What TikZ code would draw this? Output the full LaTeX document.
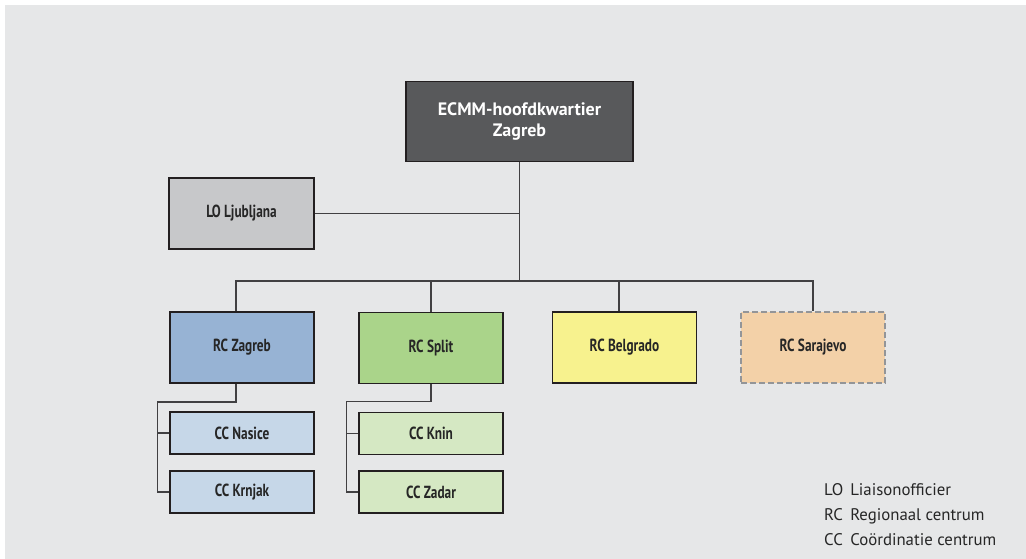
\documentclass[tikz,border=0pt]{standalone}
\usepackage{fontspec}
\setmainfont{PT Sans}
\newfontfamily\boxfont[FakeStretch=0.76]{PT Sans}
\usepackage{xcolor}
\usepackage{tikz}

\definecolor{bgGrey}{HTML}{E6E7E8}
\definecolor{lineGrey}{HTML}{414042}
\definecolor{edgeDark}{HTML}{231F20}
\definecolor{hqFill}{HTML}{58595B}
\definecolor{loFill}{HTML}{C7C8CA}
\definecolor{zagFill}{HTML}{97B3D4}
\definecolor{zagLight}{HTML}{C6D7E8}
\definecolor{splFill}{HTML}{AAD48A}
\definecolor{splLight}{HTML}{D5E8C3}
\definecolor{belFill}{HTML}{F7F28E}
\definecolor{sarFill}{HTML}{F3D1A8}
\definecolor{sarEdge}{HTML}{939598}

\tikzset{
  unit/.style={draw=edgeDark, line width=1.8pt, inner sep=0pt, align=center,
    font=\boxfont\bfseries\fontsize{17.5}{20}\selectfont, text=black!85},
  rcbox/.style={unit, minimum width=144pt, minimum height=71pt},
  ccbox/.style={unit, minimum width=144pt, minimum height=42pt},
  link/.style={draw=lineGrey, line width=1.2pt}
}

\begin{document}
\begin{tikzpicture}[x=1pt, y=-1pt]
  \useasboundingbox (0,0) rectangle (1026,559);
  \fill[bgGrey] (5,5) rectangle (1026,559);

  % Headquarters and liaison office
  \node[unit, fill=hqFill, minimum width=227pt, minimum height=80pt,
    font=\bfseries\fontsize{18}{21}\selectfont, text=white] (hq) at (519.5,121.5)
    {ECMM-hoofdkwartier\\Zagreb};
  \node[unit, fill=loFill, minimum width=145pt, minimum height=71pt] (lo) at (241.5,213.5) {LO Ljubljana};

  % Regional centres
  \node[rcbox, fill=zagFill] (rcZagreb) at (242,347.5) {RC Zagreb};
  \node[rcbox, fill=splFill] (rcSplit) at (431,348) {RC Split};
  \node[rcbox, fill=belFill] (rcBelgrado) at (624.5,347.5) {RC Belgrado};
  \node[rcbox, fill=sarFill, draw=sarEdge, line width=1.5pt, dash pattern=on 6pt off 3pt] (rcSarajevo) at (813,347.5) {RC Sarajevo};

  % Coordination centres
  \node[ccbox, fill=zagLight] (ccNasice) at (242,433) {CC Nasice};
  \node[ccbox, fill=zagLight] (ccKrnjak) at (242,492) {CC Krnjak};
  \node[ccbox, fill=splLight] (ccKnin) at (431,433.5) {CC Knin};
  \node[ccbox, fill=splLight] (ccZadar) at (431,492) {CC Zadar};

  % Connectors
  \coordinate (bus) at (519.5,281);
  \draw[link] (hq.south) -- (bus);
  \draw[link] (lo.east) -- (hq.south |- lo.east);
  \draw[link] ([xshift=-6pt]rcZagreb.north) |- (bus) -| (rcSarajevo.north);
  \draw[link] (rcSplit.north) -- (rcSplit.north |- bus);
  \draw[link] ([xshift=-5.5pt]rcBelgrado.north) -- ([xshift=-5.5pt]rcBelgrado.north |- bus);

  \draw[link] ([xshift=-6pt]rcZagreb.south) -- ++(0,18) -| ([xshift=-12pt]ccNasice.west) |- (ccKrnjak.west);
  \draw[link] ([xshift=-12pt]ccNasice.west) -- (ccNasice.west);
  \draw[link] (rcSplit.south) -- ++(0,17) -| ([xshift=-12pt]ccKnin.west) |- (ccZadar.west);
  \draw[link] ([xshift=-12pt]ccKnin.west) -- (ccKnin.west);

  % Legend
  \node[anchor=north west, inner sep=0pt, font=\fontsize{16.8}{25}\selectfont, text=black!85] (legend) at (824,478)
    {\begin{tabular}{@{}l@{\hspace{7pt}}l@{}}
      LO & Liaisonofficier\\
      RC & Regionaal centrum\\
      CC & Coördinatie centrum
    \end{tabular}};
\end{tikzpicture}
\end{document}
